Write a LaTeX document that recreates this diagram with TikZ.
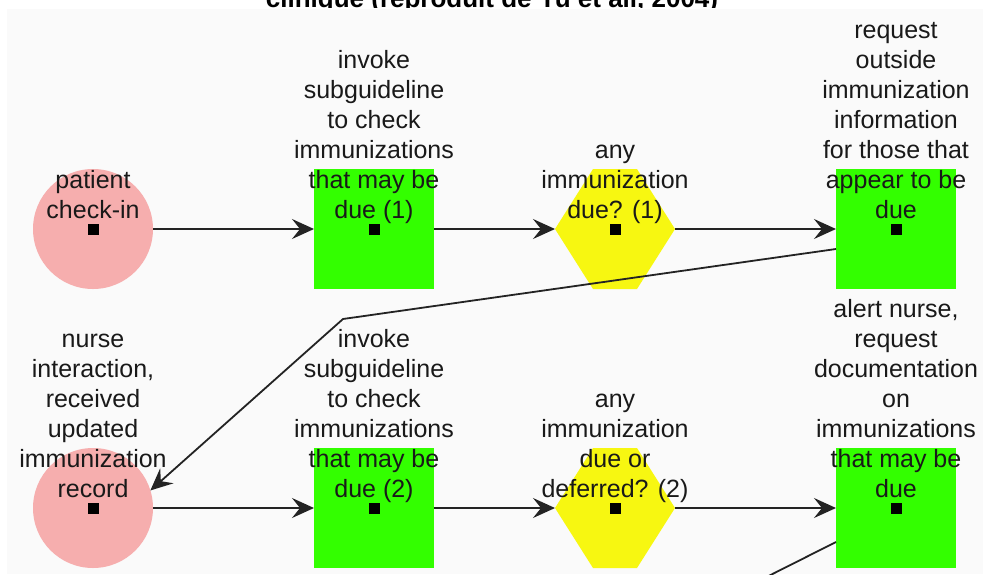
\documentclass[tikz,border=0pt]{standalone}
\usepackage{fontspec}
\setmainfont{Liberation Sans}
\usetikzlibrary{arrows.meta,calc,positioning}

\definecolor{checkin}{RGB}{246,174,174}
\definecolor{action}{RGB}{51,255,0}
\definecolor{decision}{RGB}{247,247,17}
\definecolor{panel}{RGB}{250,250,250}
\definecolor{wire}{RGB}{35,35,35}

\newcommand\centermark{\fill[black] ($(path picture bounding box.center)+(-5.5,-5.5)$) rectangle +(11,11);}

\tikzset{
    start/.style={circle, fill=checkin, minimum size=120pt, inner sep=0pt, outer sep=0pt, path picture={\centermark}},
    task/.style={rectangle, fill=action, minimum size=120pt, inner sep=0pt, outer sep=0pt, path picture={\centermark}},
    choice/.style={rectangle, minimum size=120pt, inner sep=0pt, outer sep=0pt,
        path picture={\fill[decision] (path picture bounding box.west)
            -- ([xshift=-22pt]path picture bounding box.north) -- ([xshift=22pt]path picture bounding box.north)
            -- (path picture bounding box.east)
            -- ([xshift=22pt]path picture bounding box.south) -- ([xshift=-22pt]path picture bounding box.south) -- cycle;
            \centermark}},
    txt/.style={font=\fontsize{25}{30}\selectfont, align=center, inner sep=0pt, text depth=0pt, text=black!90},
}

\begin{document}
\begin{tikzpicture}[x=1pt, y=-1pt, >={Stealth[length=22pt, width=20pt, inset=8pt]}, line width=1.8pt, draw=wire]
    \useasboundingbox (0,0) rectangle (983,574);
    \clip (0,0) rectangle (983,574);
    \fill[white] (0,0) rectangle (983,574);
    \fill[panel] (7,9) rectangle (983,574);

    \begin{scope}
        \clip (0,0) rectangle (983,7.5);
        \node[font=\bfseries\fontsize{26}{30}\selectfont, anchor=base] (title) at (492,7) {clinique (reproduit de Yu et all, 2004)};
    \end{scope}

    \node[start]    (checkin)                            at (93,229) {};
    \node[task]     (subguide1) [right=161pt of checkin]   {};
    \node[choice]   (due1)      [right=121pt of subguide1] {};
    \node[task]     (request)   [right=161pt of due1]      {};
    \node[start]    (record)    [below=159pt of checkin]   {};
    \node[task]     (subguide2) [right=161pt of record]    {};
    \node[choice]   (due2)      [right=121pt of subguide2] {};
    \node[task]     (alert)     [right=161pt of due2]      {};

    \node[txt, above=10pt of checkin.center]   (checkinlbl)   {patient\\check-in};
    \node[txt, above=10pt of subguide1.center] (subguide1lbl) {invoke\\subguideline\\to check\\immunizations\\that may be\\due (1)};
    \node[txt, above=10pt of due1.center]      (due1lbl)      {any\\immunization\\due? (1)};
    \node[txt, above=10pt of request.center]   (requestlbl)   {request\\outside\\immunization\\information\\for those that\\appear to be\\due};
    \node[txt, above=10pt of record.center]    (recordlbl)    {nurse\\interaction,\\received\\updated\\immunization\\record};
    \node[txt, above=10pt of subguide2.center] (subguide2lbl) {invoke\\subguideline\\to check\\immunizations\\that may be\\due (2)};
    \node[txt, above=10pt of due2.center]      (due2lbl)      {any\\immunization\\due or\\deferred? (2)};
    \node[txt, above=10pt of alert.center]     (alertlbl)     {alert nurse,\\request\\documentation\\on\\immunizations\\that may be\\due};

    \coordinate (bend) at (343,319);
    \coordinate (exit) at (705,608);

    \path[->]   (checkin)   edge (subguide1)
                (subguide1) edge (due1)
                (due1)      edge (request)
                (record)    edge (subguide2)
                (subguide2) edge (due2)
                (due2)      edge (alert);
    \draw[->] ($(request.west)+(0,20)$) -- (bend) -- (record.17);
    \draw ($(alert.west)+(0,34)$) -- (exit);
\end{tikzpicture}
\end{document}
